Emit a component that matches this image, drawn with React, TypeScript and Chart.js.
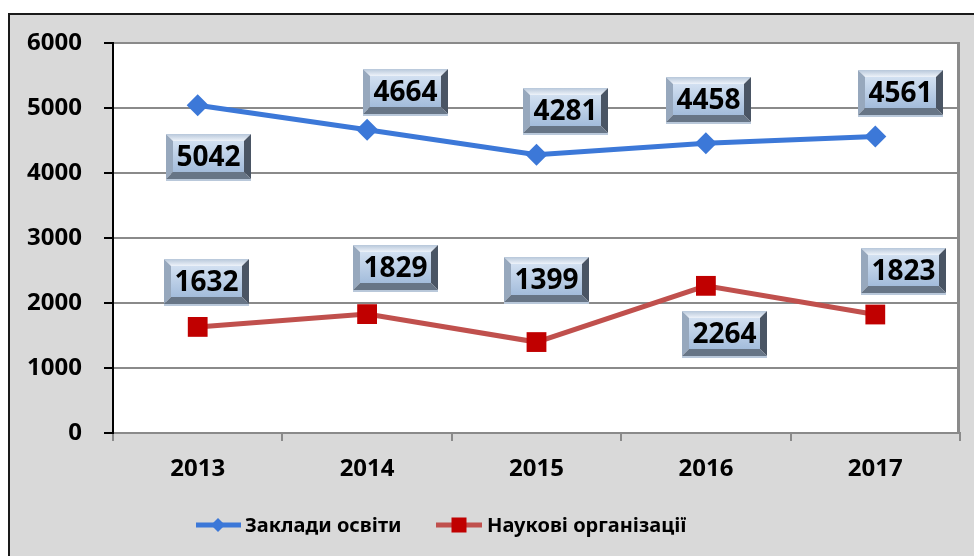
import React, { useEffect, useRef } from "react";
import { Chart, registerables } from "chart.js";

Chart.register(...registerables);

const years = ["2013", "2014", "2015", "2016", "2017"];
const educationValues = [5042, 4664, 4281, 4458, 4561];
const scienceValues = [1632, 1829, 1399, 2264, 1823];
const seriesNames = ["Заклади освіти", "Наукові організації"];
const yTicks = [0, 1000, 2000, 3000, 4000, 5000, 6000];

// label box offsets relative to the point (layout, not data)
const eduLabelOffsets: [number, number][] = [[11, 52], [38, -37], [29, -43], [3, -43], [25, -43]];
const sciLabelOffsets: [number, number][] = [[9, -44], [28, -46], [10, -62], [19, 49], [28, -43]];

const BLUE = "#3c78d8";
const RED_LINE = "#c0504d";
const RED_MARK = "#c00000";
const FONT = "'Noto Sans', sans-serif";

function drawBevelBox(ctx: CanvasRenderingContext2D, cx: number, cy: number, text: string) {
  const w = 85, h = 47, b = 7;
  const x0 = Math.round(cx - w / 2), y0 = Math.round(cy - h / 2);
  const x1 = x0 + w, y1 = y0 + h;
  ctx.save();
  ctx.fillStyle = "#b9c8da";
  ctx.fillRect(x0, y1 - 2, w, 2);
  const yb = y1 - 2;
  let g = ctx.createLinearGradient(0, y0, 0, y0 + b);
  g.addColorStop(0, "#b7c7da");
  g.addColorStop(1, "#eef3fa");
  ctx.fillStyle = g;
  ctx.beginPath();
  ctx.moveTo(x0, y0); ctx.lineTo(x1, y0); ctx.lineTo(x1 - b, y0 + b); ctx.lineTo(x0 + b, y0 + b); ctx.closePath();
  ctx.fill();
  ctx.fillStyle = "#97a8bd";
  ctx.beginPath();
  ctx.moveTo(x0, y0); ctx.lineTo(x0 + b, y0 + b); ctx.lineTo(x0 + b, yb - b); ctx.lineTo(x0, yb); ctx.closePath();
  ctx.fill();
  ctx.fillStyle = "#4a5564";
  ctx.beginPath();
  ctx.moveTo(x1, y0); ctx.lineTo(x1, yb); ctx.lineTo(x1 - b, yb - b); ctx.lineTo(x1 - b, y0 + b); ctx.closePath();
  ctx.fill();
  ctx.fillStyle = "#677586";
  ctx.beginPath();
  ctx.moveTo(x0, yb); ctx.lineTo(x0 + b, yb - b); ctx.lineTo(x1 - b, yb - b); ctx.lineTo(x1, yb); ctx.closePath();
  ctx.fill();
  g = ctx.createLinearGradient(0, y0 + b, 0, yb - b);
  g.addColorStop(0, "#d2e0f1");
  g.addColorStop(1, "#a3bcdb");
  ctx.fillStyle = g;
  ctx.fillRect(x0 + b, y0 + b, w - 2 * b, yb - y0 - 2 * b);
  ctx.fillStyle = "#000";
  ctx.font = `bold 28px ${FONT}`;
  ctx.textAlign = "center";
  ctx.textBaseline = "middle";
  ctx.fillText(text, x0 + w / 2, y0 + h / 2 + 1);
  ctx.restore();
}

const decorPlugin = {
  id: "decor",
  beforeDraw(chart: any) {
    const { ctx, width, height, chartArea } = chart;
    ctx.save();
    ctx.fillStyle = "#ffffff";
    ctx.fillRect(0, 0, width, height);
    ctx.fillStyle = "#d9d9d9";
    ctx.fillRect(9, 14, width, height);
    ctx.strokeStyle = "#1a1a1a";
    ctx.lineWidth = 2;
    ctx.beginPath();
    ctx.moveTo(9, height + 5);
    ctx.lineTo(9, 14);
    ctx.lineTo(width + 5, 14);
    ctx.stroke();
    ctx.fillStyle = "#ffffff";
    ctx.fillRect(chartArea.left, chartArea.top, chartArea.right - chartArea.left, chartArea.bottom - chartArea.top);
    ctx.restore();
  },
  beforeDatasetsDraw(chart: any) {
    const { ctx, chartArea } = chart;
    ctx.save();
    ctx.strokeStyle = "#8a8a8a";
    ctx.lineWidth = 3;
    ctx.beginPath();
    ctx.moveTo(chartArea.right - 1.5, chartArea.top - 1);
    ctx.lineTo(chartArea.right - 1.5, chartArea.bottom);
    ctx.stroke();
    ctx.restore();
  },
  afterDatasetsDraw(chart: any) {
    const { ctx } = chart;
    const offsets = [eduLabelOffsets, sciLabelOffsets];
    chart.data.datasets.forEach((ds: any, di: number) => {
      const meta = chart.getDatasetMeta(di);
      meta.data.forEach((pt: any, i: number) => {
        const [dx, dy] = offsets[di][i];
        drawBevelBox(ctx, pt.x + dx, pt.y + dy, String(ds.data[i]));
      });
    });
    const ly = 525;
    ctx.save();
    ctx.lineCap = "butt";
    ctx.lineWidth = 5;
    ctx.strokeStyle = BLUE;
    ctx.beginPath(); ctx.moveTo(196, ly); ctx.lineTo(241, ly); ctx.stroke();
    ctx.fillStyle = BLUE;
    ctx.beginPath();
    ctx.moveTo(218 - 7, ly); ctx.lineTo(218, ly - 7); ctx.lineTo(218 + 7, ly); ctx.lineTo(218, ly + 7); ctx.closePath();
    ctx.fill();
    ctx.strokeStyle = RED_LINE;
    ctx.beginPath(); ctx.moveTo(436, ly); ctx.lineTo(482, ly); ctx.stroke();
    ctx.fillStyle = RED_MARK;
    ctx.fillRect(459 - 7.5, ly - 7.5, 15, 15);
    ctx.fillStyle = "#000";
    ctx.font = `bold 20px ${FONT}`;
    ctx.textAlign = "left";
    ctx.textBaseline = "middle";
    ctx.fillText(seriesNames[0], 245, ly + 1);
    ctx.fillText(seriesNames[1], 487, ly + 1);
    ctx.restore();
  },
};

export default function App() {
  const ref = useRef<HTMLCanvasElement | null>(null);
  useEffect(() => {
    if (!ref.current) return;
    const chart = new Chart(ref.current, {
      type: "line",
      data: {
        labels: years,
        datasets: [
          {
            label: seriesNames[0],
            data: educationValues,
            borderColor: BLUE,
            backgroundColor: BLUE,
            borderWidth: 5,
            pointStyle: "rectRot",
            pointRadius: 11,
            pointBorderWidth: 0,
            pointBackgroundColor: BLUE,
            tension: 0,
          },
          {
            label: seriesNames[1],
            data: scienceValues,
            borderColor: RED_LINE,
            backgroundColor: RED_MARK,
            borderWidth: 5,
            pointStyle: "rect",
            pointRadius: 14,
            pointBorderWidth: 0,
            pointBackgroundColor: RED_MARK,
            tension: 0,
          },
        ],
      },
      options: {
        animation: false,
        responsive: false,
        maintainAspectRatio: false,
        layout: { padding: { top: 43, right: 14, left: 0, bottom: 0 } },
        plugins: { legend: { display: false }, tooltip: { enabled: false } },
        scales: {
          x: {
            offset: true,
            grid: {
              offset: true,
              drawOnChartArea: false,
              drawTicks: true,
              tickLength: 8,
              color: "#8a8a8a",
              lineWidth: 2,
            },
            border: { color: "#8a8a8a", width: 2 },
            ticks: { color: "#000", font: { family: FONT, size: 24, weight: "bold" }, padding: 14 },
            afterFit(scale: any) { scale.height = 123; },
          },
          y: {
            min: 0,
            max: 6000,
            afterBuildTicks(scale: any) { scale.ticks = yTicks.map((v) => ({ value: v })); },
            grid: { color: "#8a8a8a", lineWidth: 2, tickLength: 9, tickColor: "#000" },
            border: { color: "#000", width: 2 },
            ticks: {
              color: "#000",
              font: { family: FONT, size: 24, weight: "bold" },
              padding: 22,
              callback: (v: any) => String(v),
            },
            afterFit(scale: any) { scale.width = 113; },
          },
        },
      },
      plugins: [decorPlugin],
    } as any);
    return () => chart.destroy();
  }, []);
  return (
    <div style={{ position: "fixed", left: 0, top: 0, width: 974, height: 556 }}>
      <canvas ref={ref} width={974} height={556} style={{ width: 974, height: 556, display: "block" }} />
    </div>
  );
}
